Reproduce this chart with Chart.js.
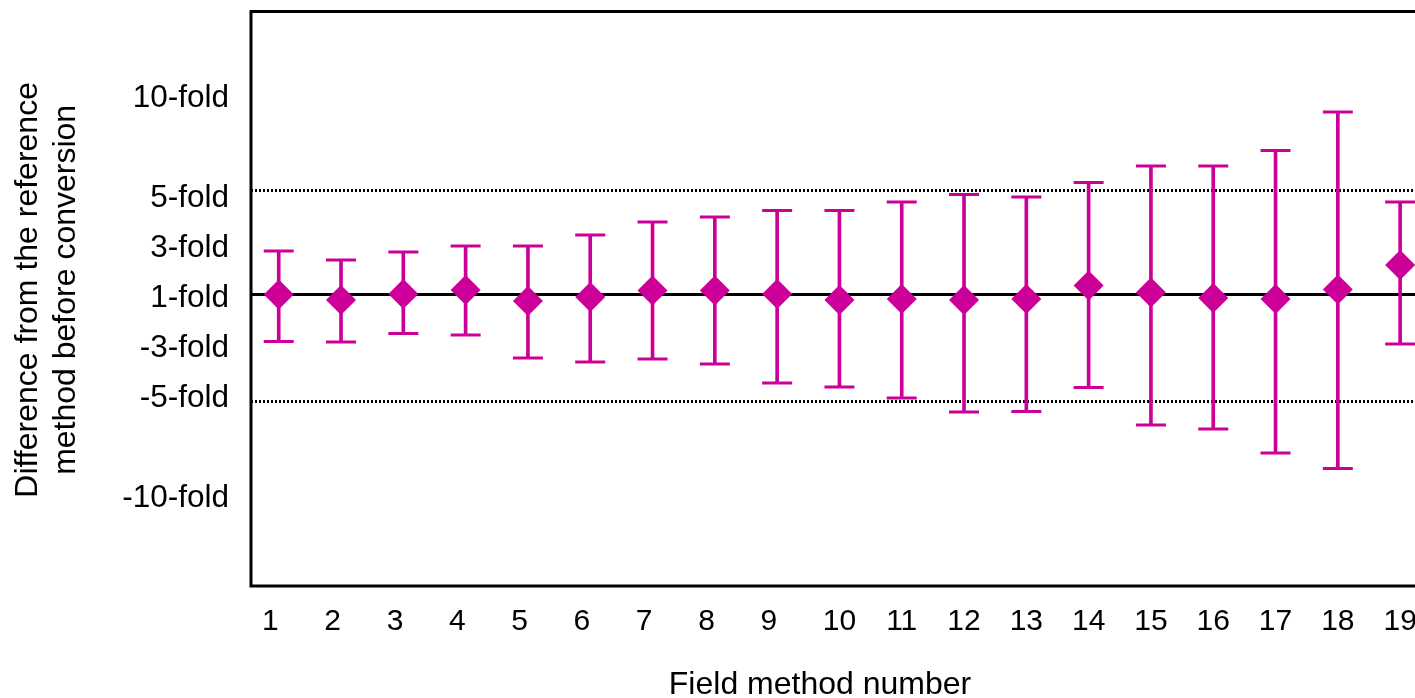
<!DOCTYPE html>
<html>
<head>
<meta charset="utf-8">
<title>Field method difference</title>
<script src="https://cdn.jsdelivr.net/npm/chart.js@4/dist/chart.umd.min.js"></script>
<style>
  html, body { margin: 0; padding: 0; background: #fff; overflow: hidden; }
  #chart { display: block; }
</style>
</head>
<body>
<canvas id="chart" width="1640" height="702"></canvas>
<script>
// field method numbers (x)
const methodNumbers = [1, 2, 3, 4, 5, 6, 7, 8, 9, 10, 11, 12, 13, 14, 15, 16, 17, 18, 19];
// mean difference, in axis units (1-fold = 0)
const meanDiff = [0.00, -0.11, 0.01, 0.09, -0.13, -0.05, 0.08, 0.08, 0.01, -0.11, -0.09, -0.11, -0.09, 0.18, 0.04, -0.07, -0.09, 0.10, 0.59];
// upper / lower ends of the error bars
const upperLimit = [0.87, 0.69, 0.85, 0.97, 0.97, 1.19, 1.45, 1.55, 1.68, 1.68, 1.85, 2.00, 1.95, 2.24, 2.57, 2.57, 2.88, 3.65, 1.85];
const lowerLimit = [-0.94, -0.95, -0.78, -0.81, -1.27, -1.35, -1.29, -1.39, -1.77, -1.85, -2.07, -2.35, -2.34, -1.86, -2.61, -2.69, -3.17, -3.48, -0.99];

// y axis tick positions and their labels
const yTickValues = [4, 2, 1, 0, -1, -2, -4];
const yTickLabels = ["10-fold", "5-fold", "3-fold", "1-fold", "-3-fold", "-5-fold", "-10-fold"];
// dotted limit lines
const limitLines = [2.08, -2.14];
const baseLine = 0;

const xMin = 0.555, xMax = 22.85;
const yMin = -5.83, yMax = 5.66;

const MAGENTA = "#cc0099";
const FONT = "'Liberation Sans', Arial, Helvetica, sans-serif";

Chart.defaults.font.family = FONT;
Chart.defaults.color = "#000";

// black frame round the plot area
const frame = {
    id: "frame",
    afterDatasetsDraw(chart) {
        const a = chart.chartArea;
        const ctx = chart.ctx;
        ctx.save();
        ctx.strokeStyle = "#000";
        ctx.lineWidth = 3;
        ctx.strokeRect(a.left, a.top, a.right - a.left, a.bottom - a.top);
        ctx.restore();
    }
};

const hLine = (y, dash, width) => ({
    type: "line",
    data: [{ x: xMin, y: y }, { x: xMax, y: y }],
    borderColor: "#000",
    borderWidth: width,
    borderDash: dash,
    pointRadius: 0,
    order: 4
});

const datasets = [
    hLine(baseLine, [], 3),
    ...limitLines.map(v => hLine(v, [2, 2], 3)),
    {
        // error bar stems
        type: "bar",
        data: methodNumbers.map((x, i) => ({ x: x, y: [lowerLimit[i], upperLimit[i]] })),
        backgroundColor: MAGENTA,
        borderWidth: 0,
        barThickness: 3,
        order: 3
    },
    {
        // error bar caps
        type: "scatter",
        data: methodNumbers.map((x, i) => ({ x: x, y: upperLimit[i] }))
            .concat(methodNumbers.map((x, i) => ({ x: x, y: lowerLimit[i] }))),
        pointStyle: "line",
        pointRadius: 15,
        pointBorderWidth: 3,
        borderColor: MAGENTA,
        backgroundColor: MAGENTA,
        order: 2
    },
    {
        // mean difference
        type: "scatter",
        data: methodNumbers.map((x, i) => ({ x: x, y: meanDiff[i] })),
        pointStyle: "rectRot",
        pointRadius: 15,
        pointBorderWidth: 0,
        backgroundColor: MAGENTA,
        borderColor: MAGENTA,
        order: 1
    }
];

new Chart(document.getElementById("chart"), {
    type: "scatter",
    data: { datasets: datasets },
    options: {
        responsive: false,
        animation: false,
        devicePixelRatio: 1,
        layout: { autoPadding: false, padding: { top: 11.5, left: 0, right: 0, bottom: 0 } },
        plugins: {
            legend: { display: false },
            tooltip: { enabled: false },
            title: {
                display: true,
                position: "bottom",
                text: "Field method number",
                color: "#000",
                font: { size: 32, weight: "normal", lineHeight: 1 },
                padding: { top: 23, bottom: 1 }
            }
        },
        scales: {
            x: {
                type: "linear",
                min: xMin,
                max: xMax,
                offset: false,
                grid: { display: false, drawTicks: false, offset: false },
                border: { display: false },
                afterBuildTicks: s => { s.ticks = methodNumbers.map(v => ({ value: v })); },
                afterFit: s => { s.height = 60; s.paddingLeft = 0; s.paddingRight = 0; },
                ticks: {
                    padding: 18,
                    maxRotation: 0,
                    autoSkip: false,
                    font: { size: 30 },
                    // single digits sit a little left in the original
                    callback: v => String(v).length === 1 ? v + "  " : String(v)
                }
            },
            y: {
                type: "linear",
                min: yMin,
                max: yMax,
                grid: { display: false, drawTicks: false },
                border: { display: false },
                afterBuildTicks: s => { s.ticks = yTickValues.map(v => ({ value: v })); },
                afterFit: s => { s.width = 251; s.paddingTop = 0; s.paddingBottom = 0; },
                ticks: {
                    padding: 22,
                    // empty first line pushes the label a few px below its tick, as in the original
                    font: { size: 31.5, lineHeight: "8px" },
                    callback: v => ["", yTickLabels[yTickValues.indexOf(v)]]
                },
                title: {
                    display: true,
                    text: ["  Difference from the reference", "  method before conversion"],
                    color: "#000",
                    font: { size: 32, lineHeight: "38px" },
                    padding: { top: 9, bottom: 0 }
                }
            }
        }
    },
    plugins: [frame]
});
</script>
</body>
</html>
